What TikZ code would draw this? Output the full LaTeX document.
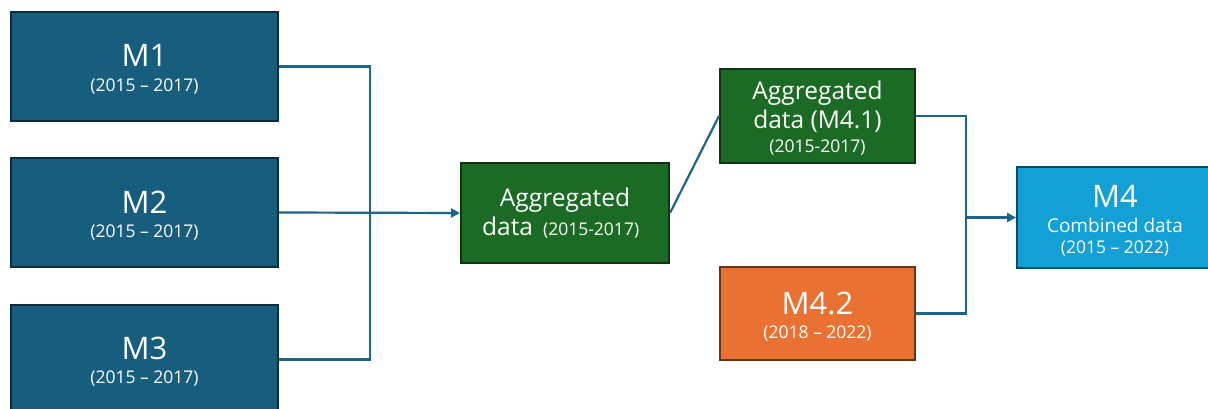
\documentclass[tikz,border=0pt]{standalone}
\usepackage{fontspec}
\setmainfont{Open Sans}
\usetikzlibrary{arrows.meta}
\definecolor{mblue}{HTML}{175E7E}
\definecolor{mblueb}{HTML}{0E2B3B}
\definecolor{agreen}{HTML}{1C6B24}
\definecolor{agreenb}{HTML}{0F3413}
\definecolor{morange}{HTML}{E97132}
\definecolor{moranb}{HTML}{6E3215}
\definecolor{mcyan}{HTML}{12A0D7}
\definecolor{mcyanb}{HTML}{0B4B68}
\definecolor{link}{HTML}{1D6488}
\begin{document}
\begin{tikzpicture}[x=1pt,y=1pt,
  box/.style={draw, line width=2pt, inner sep=0pt},
  src/.style={box, fill=mblue, draw=mblueb, minimum width=267pt, minimum height=109pt},
  agg/.style={box, fill=agreen, draw=agreenb},
  txt/.style={anchor=base, inner sep=0pt, text=white},
  big/.style={txt, font=\fontsize{31}{33}\selectfont},
  mid/.style={txt, font=\fontsize{24.5}{28}\selectfont},
  sub/.style={txt, font=\fontsize{19}{22}\selectfont},
  yr/.style={txt, font=\fontsize{17.5}{20}\selectfont},
  conn/.style={draw=link, line width=2.2pt},
  arr/.style={conn, -{Triangle[length=9pt,width=9pt]}}]
\useasboundingbox (0,0) rectangle (1208,409);
% source models
\node[src] (m1) at (144.5,342.5) {};
\node[src] (m2) at (144.5,196.5) {};
\node[src] (m3) at (144.5,49.5) {};
\node[big] (m1t) at (144.5,342.3) {M1};
\node[yr]  (m1y) at (144.5,317.5) {(2015 -- 2017)};
\node[big] (m2t) at (144.5,195.7) {M2};
\node[yr]  (m2y) at (144.5,171) {(2015 -- 2017)};
\node[big] (m3t) at (144.5,49.7) {M3};
\node[yr]  (m3y) at (144.5,25) {(2015 -- 2017)};
% aggregated data
\node[agg, minimum width=208pt, minimum height=100pt] (ag) at (565,196) {};
\node[mid] (agt) at (565,202.3) {Aggregated};
\node[txt, anchor=base west] (agd) at (482,173) {\fontsize{24.5}{28}\selectfont data\hspace{10pt}\fontsize{17.5}{20}\selectfont(2015-2017)};
\node[agg, minimum width=195pt, minimum height=94pt] (m41) at (817.5,293) {};
\node[mid] (m41t) at (817.5,309.7) {Aggregated};
\node[mid] (m41d) at (817.5,280.7) {data (M4.1)};
\node[yr]  (m41y) at (817.5,256.3) {(2015-2017)};
% new period
\node[box, fill=morange, draw=moranb, minimum width=195pt, minimum height=93pt] (m42) at (817.5,95.5) {};
\node[big] (m42t) at (817.5,94) {M4.2};
\node[yr]  (m42y) at (817.5,70) {(2018 -- 2022)};
% combined
\node[box, fill=mcyan, draw=mcyanb, minimum width=196pt, minimum height=101pt] (m4) at (1115,191.5) {};
\node[big] (m4t) at (1115,201.3) {M4};
\node[sub] (m4c) at (1115,176.7) {Combined data};
\node[yr]  (m4y) at (1115,155.7) {(2015 -- 2022)};
% connectors
\coordinate (j1) at (370,196.5);
\coordinate (j2) at (966,191.5);
\draw[conn] (m1.east) -| (j1 |- m3.east) -- (m3.east);
\draw[arr] (m2.east) -- (ag.west);
\draw[conn] (ag.east) -- (m41.west);
\draw[conn] (m41.east) -| (j2 |- m42.east) -- (m42.east);
\draw[arr] (j2) -- (m4.west);
\end{tikzpicture}
\end{document}
